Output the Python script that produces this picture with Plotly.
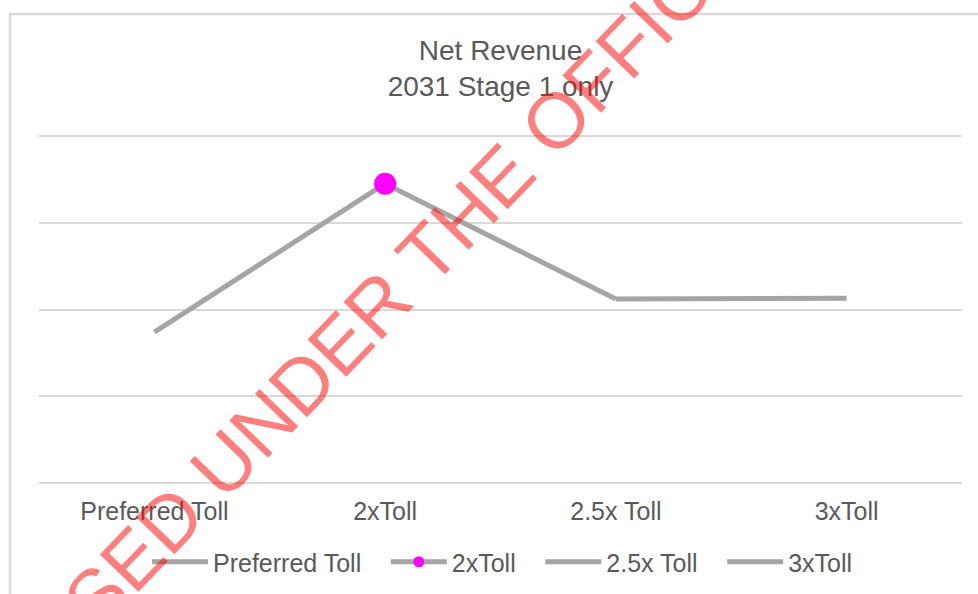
import plotly.graph_objects as go

# Toll scenarios and modelled net revenue (relative units, 2031, stage 1 only)
scenarios = ["Preferred Toll", "2xToll", "2.5x Toll", "3xToll"]
net_revenue = [1.74, 3.45, 2.12, 2.13]
highlight = "2xToll"

line_grey = "#a5a5a5"
text_grey = "#595959"
grid_grey = "#d9d9d9"
magenta = "#ff00ff"
FONT = "Liberation Sans, Arial, sans-serif"

W, H = 978, 594
# plot area spans x 39..962; the value grid 0..4 spans y 483..136,
# padded by a few pixels so the outer grid lines are kept
GRID_TOP, GRID_BOTTOM, PAD = 136, 483, 10
unit = (GRID_BOTTOM - GRID_TOP) / 4
L, R = 39, 16
T, B = GRID_TOP - PAD, H - GRID_BOTTOM - PAD
pw, ph = W - L - R, H - T - B
y_pad = PAD / unit


def px_x(p):
    return (p - L) / pw


def px_y(p):
    return (H - B - p) / ph


fig = go.Figure()

# Each scenario's legend entry owns the line segment that ends at its point,
# the way a per-point coloured line chart is built. The highlighted scenario
# is drawn last so its marker sits on top of the neighbouring segment.
order = [i for i, s in enumerate(scenarios) if s != highlight] + \
        [i for i, s in enumerate(scenarios) if s == highlight]
for i in order:
    name = scenarios[i]
    xs = scenarios[max(i - 1, 0):i + 1]
    ys = net_revenue[max(i - 1, 0):i + 1]
    has_marker = name == highlight
    fig.add_trace(go.Scatter(
        x=xs, y=ys,
        # a little trailing room after each legend label
        name=name + "\u2002\u2009\u200a",
        legendrank=1000 + i,
        mode="lines+markers" if has_marker else "lines",
        line=dict(color=line_grey, width=5),
        marker=dict(color=magenta, opacity=1, line=dict(width=0),
                    size=[0] * (len(xs) - 1) + [22]) if has_marker else None,
        hoverinfo="skip",
    ))

fig.update_layout(
    width=W, height=H,
    margin=dict(l=L, r=R, t=T, b=B, pad=0, autoexpand=False),
    paper_bgcolor="white", plot_bgcolor="white",
    font=dict(family=FONT, color=text_grey),
    title=dict(
        text="Net Revenue<br>2031 Stage 1 only",
        font=dict(size=28, color=text_grey, family=FONT),
        x=0.5, xref="paper", xanchor="center",
        y=1 - 60 / H, yref="container", yanchor="middle",
    ),
    xaxis=dict(
        type="category", categoryorder="array", categoryarray=scenarios,
        showgrid=False, zeroline=False, showline=False, ticks="",
        tickfont=dict(size=25, color=text_grey),
        ticklabelstandoff=1,
        range=[-0.5, len(scenarios) - 0.5],
    ),
    yaxis=dict(
        range=[-y_pad, 4 + y_pad], tick0=0, dtick=1,
        showticklabels=False, ticks="",
        showgrid=True, gridcolor=grid_grey, gridwidth=1.5,
        zeroline=False, showline=False,
    ),
    legend=dict(
        orientation="h", x=px_x(147), xanchor="left",
        y=px_y(562), yanchor="middle",
        font=dict(size=25, color=text_grey),
        itemwidth=56, bgcolor="rgba(0,0,0,0)",
    ),
    showlegend=True,
)

# Chart frame
fig.add_shape(type="rect", xref="paper", yref="paper",
              x0=px_x(10), x1=px_x(990), y0=px_y(610), y1=px_y(14),
              line=dict(color=grid_grey, width=2.5), fillcolor="rgba(0,0,0,0)",
              layer="below")

# Release stamp across the chart
fig.add_annotation(
    text="RELEASED UNDER THE OFFICIAL INFORMATION ACT",
    xref="paper", yref="paper", x=px_x(594), y=px_y(81),
    xanchor="center", yanchor="middle", showarrow=False,
    textangle=-46,
    font=dict(size=78, color="rgba(255,0,0,0.5)", family=FONT),
)

fig.write_html("out.html")
